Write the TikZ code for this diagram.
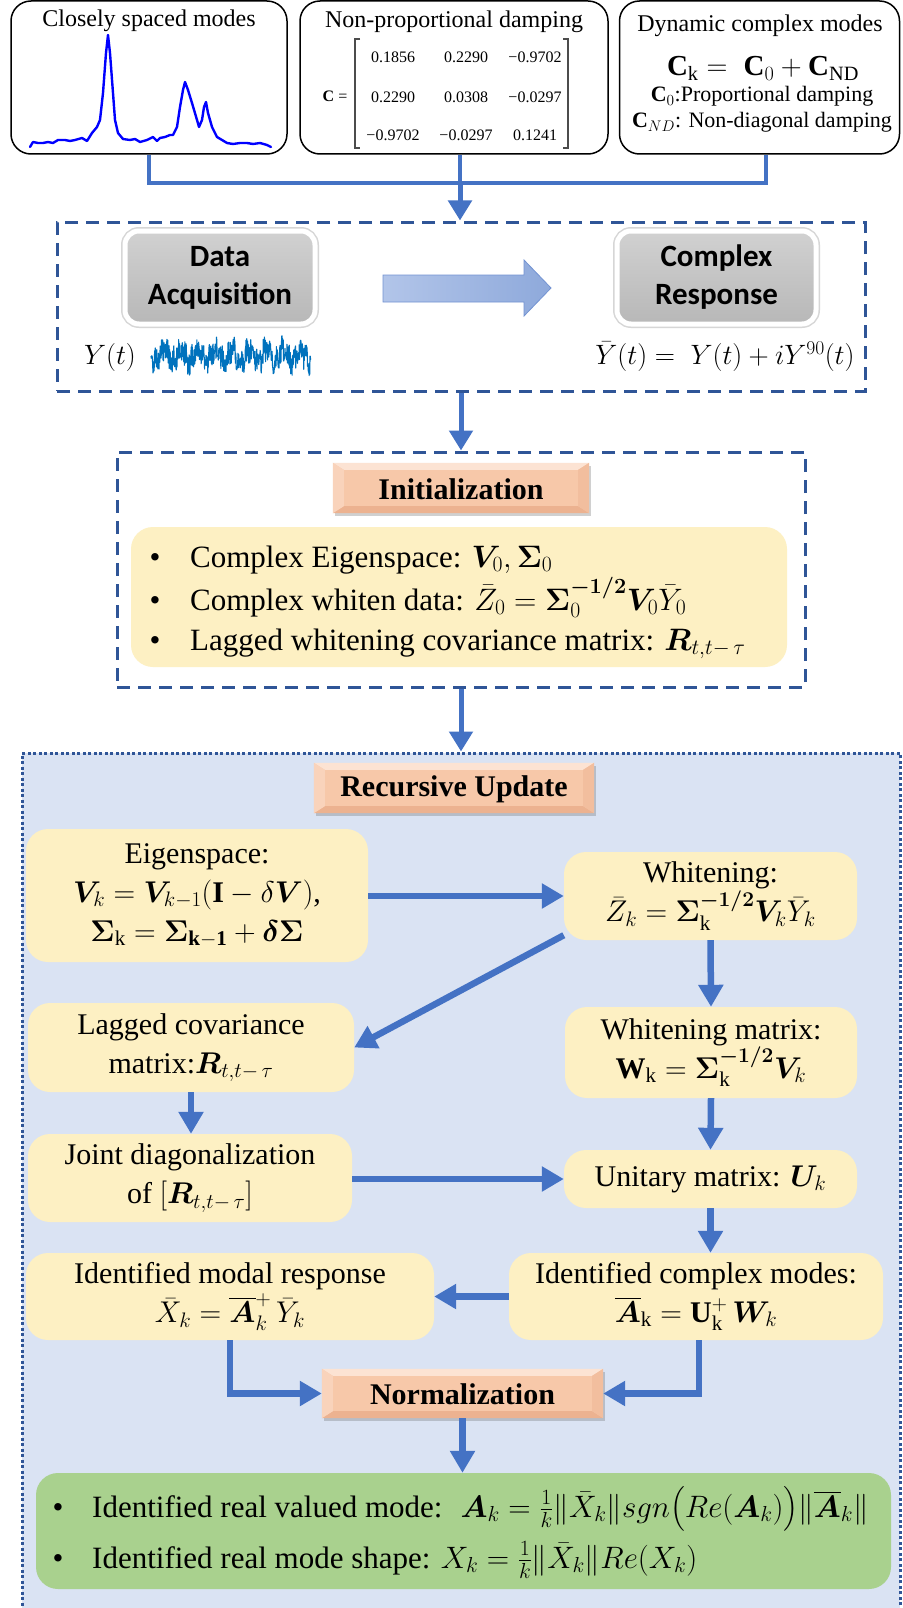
\RequirePackage{fix-cm}
\documentclass[tikz,border=0pt]{standalone}
\usepackage{amsmath}
\usepackage{bm}
\usepackage{fontspec}
\setmainfont{Liberation Serif}
\newfontfamily\calib{Carlito}
\usetikzlibrary{arrows.meta,shadows,calc}
\definecolor{conn}{HTML}{4472C4}
\definecolor{dashc}{HTML}{2F5597}
\definecolor{ylw}{HTML}{FDF0C3}
\definecolor{grn}{HTML}{A9D18E}
\definecolor{bgblue}{HTML}{DAE3F3}
\definecolor{salm}{HTML}{F7C8A9}
\definecolor{salmtop}{HTML}{FCE3D3}
\definecolor{salmleft}{HTML}{F9D3BB}
\definecolor{salmright}{HTML}{F2BE9E}
\definecolor{salmbot}{HTML}{ECB290}
\definecolor{arrfill}{HTML}{8EA9DB}
\definecolor{arrfillL}{HTML}{B2C5E9}
\definecolor{arrdraw}{HTML}{7393D2}
\definecolor{noisec}{HTML}{0072BD}
\newcommand\bevel[1]{%
  \fill[salmtop] (#1.north west) -- (#1.north east) -- ($(#1.north east)+(-11,7)$) -- ($(#1.north west)+(11,7)$) -- cycle;
  \fill[salmbot] (#1.south west) -- (#1.south east) -- ($(#1.south east)+(-11,-7)$) -- ($(#1.south west)+(11,-7)$) -- cycle;
  \fill[salmleft] (#1.north west) -- ($(#1.north west)+(11,7)$) -- ($(#1.south west)+(11,-7)$) -- (#1.south west) -- cycle;
  \fill[salmright] (#1.north east) -- ($(#1.north east)+(-11,7)$) -- ($(#1.south east)+(-11,-7)$) -- (#1.south east) -- cycle;
}
\tikzset{
  topbox/.style={draw=black, line width=1.5pt, rounded corners=20pt, fill=white, minimum height=153pt, inner sep=0pt},
  dashbox/.style={draw=dashc, line width=3pt, dash pattern=on 13pt off 8pt, inner sep=0pt},
  dotbox/.style={draw=dashc, fill=bgblue, line width=3pt, dash pattern=on 3pt off 2.5pt, inner sep=0pt},
  ybox/.style={fill=ylw, rounded corners=22pt, align=center, inner sep=0pt, font=\fontsize{30}{39}\selectfont},
  gbox/.style={fill=grn, rounded corners=22pt, inner sep=0pt},
  bevbtn/.style={fill=salm, inner sep=0pt, font=\bfseries\fontsize{30}{36}\selectfont,
     drop shadow={shadow xshift=1.5pt, shadow yshift=-3pt, opacity=0.3, fill=black!60}},
  graybtn/.style={rounded corners=14pt, top color=black!18, bottom color=black!28, draw=white, line width=5pt,
     preaction={draw=black!16, line width=8pt}, align=center, inner sep=0pt,
     font=\calib\bfseries\fontsize{31}{38}\selectfont},
  thinconn/.style={draw=conn, line width=4.5pt},
  arrthin/.style={draw=conn, line width=5pt, -{Triangle[width=23pt,length=20pt]}},
  arrthick/.style={draw=conn, line width=6.5pt, -{Triangle[width=24pt,length=22pt]}},
  txt/.style={inner sep=0pt},
}
\begin{document}
\begin{tikzpicture}[x=1pt,y=-1pt]
\clip (0,0) rectangle (902,1608);
\fill[white] (0,0) rectangle (902,1608);

% ---------- top boxes ----------
\node[topbox, minimum width=276pt] (box1) at (149,77.5) {};
\node[topbox, minimum width=308pt] (box2) at (454,77.5) {};
\node[topbox, minimum width=280pt] (box3) at (759.5,77.5) {};

\node[txt, anchor=base, font=\fontsize{24}{28}\selectfont] (t1) at (149,27) {Closely spaced modes};
\node[txt, anchor=base, font=\fontsize{24}{28}\selectfont] (t2) at (454,28) {Non-proportional damping};
\node[txt, anchor=base, font=\fontsize{24}{28}\selectfont] (t3) at (760,32) {Dynamic complex modes};
\node[txt, anchor=base, font=\fontsize{29}{32}\selectfont] (ck) at (763,76) {$\mathbf{C}_{\mathrm{k}} = \;\mathbf{C}_0 + \mathbf{C}_{\mathrm{ND}}$};
\node[txt, anchor=base, font=\fontsize{22}{26}\selectfont] (c0) at (762,102) {$\mathbf{C}_0$:Proportional damping};
\node[txt, anchor=base, font=\fontsize{22}{26}\selectfont] (cnd) at (762,128) {$\mathbf{C}_{ND}$: Non-diagonal damping};

% spectrum
\draw[blue, line width=2.4pt, line join=round, line cap=round]
 (30,147) -- (33,142) -- (38,143) -- (43,143) -- (48,142) -- (53,143) -- (58,140) -- (65,140) -- (70,141) -- (75,140)
 -- (82,138) -- (87,141) -- (92,133) -- (97,127) -- (100,120) -- (103,93) -- (106,53) -- (108,35) -- (110,53) -- (113,93)
 -- (115,120) -- (118,133) -- (123,139) -- (130,140) -- (135,139) -- (140,142) -- (147,140) -- (153,137) -- (157,141)
 -- (160,138) -- (165,137) -- (170,135) -- (173,135) -- (177,127) -- (180,107) -- (183,90) -- (185,82) -- (188,90)
 -- (192,103) -- (197,120) -- (199,127) -- (202,120) -- (204,107) -- (206,102) -- (208,113) -- (212,127) -- (217,137)
 -- (222,140) -- (227,143) -- (233,144) -- (240,143) -- (247,143) -- (253,144) -- (260,143) -- (267,145) -- (271,147);

% matrix
\node[txt, font=\fontsize{16}{19}\selectfont] (cm) at (335,96) {\textbf{C} =};
\draw[black!70, line width=1.2pt] (360,39) -- (355,39) -- (355,148) -- (360,148);
\draw[black!70, line width=1.2pt] (563,39) -- (568,39) -- (568,148) -- (563,148);
\begin{scope}[every node/.style={txt, font=\fontsize{16}{19}\selectfont}]
\node (m11) at (393,57) {0.1856};
\node (m12) at (466,57) {0.2290};
\node (m13) at (535,57) {−0.9702};
\node (m21) at (393,97) {0.2290};
\node (m22) at (466,97) {0.0308};
\node (m23) at (535,97) {−0.0297};
\node (m31) at (393,135) {−0.9702};
\node (m32) at (466,135) {−0.0297};
\node (m33) at (535,135) {0.1241};
\end{scope}

% ---------- first dashed box ----------
\node[dashbox, minimum width=808pt, minimum height=169pt] (dash1) at (461,306.5) {};
\coordinate (j) at (460,183);
\coordinate (j3) at (766,183);
\draw[thinconn] (box1.south) |- (j3) -- (j3 |- box3.south);
\draw[thinconn] (j |- box2.south) -- (j);
\draw[arrthin] (j) -- (j |- dash1.north);

\node[graybtn, minimum width=190pt, minimum height=93pt] (daq) at (220,277.5) {Data\\Acquisition};
\node[graybtn, minimum width=199pt, minimum height=93pt] (cresp) at (716.5,277.5) {Complex\\Response};
\path[left color=arrfillL, right color=arrfill, draw=arrdraw, line width=0.8pt]
  (383,275) -- (524,275) -- (524,260) -- (551,288) -- (524,316) -- (524,302) -- (383,302) -- cycle;

\node[txt, font=\fontsize{28}{32}\selectfont] (yt) at (110,357) {$Y(t)$};
\pgfmathsetseed{11}
\draw[noisec, line width=1.1pt, line join=round] (151,356)
  \foreach \i in {1,...,560} { -- ({151+\i*0.285}, {356 + 6*sin(\i*6) + 4*sin(\i*17) + 12*rand}) };
\node[txt, font=\fontsize{28}{32}\selectfont] (ybar) at (725,357) {$\bar{Y}(t) = \; Y(t) + iY^{90}(t)$};

% ---------- second dashed box ----------
\node[dashbox, minimum width=688pt, minimum height=235pt] (dash2) at (461,569.5) {};
\draw[arrthin] (dash1.south) -- (dash2.north);
\node[bevbtn, minimum width=256pt, minimum height=50pt] (init) at (461,488) {};
\bevel{init}
\node[txt, font=\bfseries\fontsize{30}{36}\selectfont] (initt) at (461,489) {Initialization};
\node[ybox, minimum width=656pt, minimum height=140pt] (initbox) at (459,597) {};
\begin{scope}[every node/.style={txt, font=\fontsize{31}{38}\selectfont}]
\node[anchor=base] (d1) at (155,567) {•};
\node[anchor=base] (d2) at (155,610) {•};
\node[anchor=base] (d3) at (155,650) {•};
\node[anchor=base west] (l1) at (190,567) {Complex Eigenspace: $\bm{V}_0,\bm{\Sigma}_0$};
\node[anchor=base west] (l2) at (190,610) {Complex whiten data: $\bar{Z}_0 = \bm{\Sigma}_0^{\bm{-1/2}}\bm{V}_0\bar{Y}_0$};
\node[anchor=base west] (l3) at (190,650) {Lagged whitening covariance matrix: $\bm{R}_{t,t-\,\tau}$};
\end{scope}

% ---------- recursive update ----------
\node[dotbox, minimum width=878pt, minimum height=887pt] (rec) at (461,1196.5) {};
\draw[arrthin] (dash2.south) -- (dash2.south |- rec.north);
\node[bevbtn, minimum width=280pt, minimum height=50pt] (recbtn) at (454,788) {};
\bevel{recbtn}
\node[txt, font=\bfseries\fontsize{30}{36}\selectfont] (rect) at (454,789) {Recursive Update};

\node[ybox, minimum width=342pt, minimum height=133pt] (eig) at (197,895.5)
  {Eigenspace:\\ $\bm{V}_k = \bm{V}_{k-1}(\mathbf{I}-\delta \bm{V})$,\\ $\bm{\Sigma}_{\mathrm{k}} = \bm{\Sigma}_{\mathbf{k-1}} + \bm{\delta\Sigma}$};
\node[ybox, minimum width=293pt, minimum height=88pt] (whit) at (710.5,896)
  {Whitening:\\ $\bar{Z}_k = \bm{\Sigma}_{\mathrm{k}}^{\bm{-1/2}}\bm{V}_k\bar{Y}_k$};
\node[ybox, minimum width=326pt, minimum height=89pt] (lag) at (191,1047.5)
  {Lagged covariance\\ matrix:$\bm{R}_{t,t-\,\tau}$};
\node[ybox, minimum width=292pt, minimum height=91pt] (wmat) at (711,1052.5)
  {Whitening matrix:\\ $\mathbf{W}_{\mathrm{k}} = \bm{\Sigma}_{\mathrm{k}}^{\bm{-1/2}}\bm{V}_k$};
\node[ybox, minimum width=324pt, minimum height=88pt] (joint) at (190,1178)
  {Joint diagonalization\\ of $[\bm{R}_{t,t-\,\tau}]$};
\node[ybox, minimum width=293pt, minimum height=58pt] (unit) at (710.5,1179)
  {Unitary matrix: $\bm{U}_k$};
\node[ybox, minimum width=408pt, minimum height=87pt] (modal) at (230,1296.5)
  {Identified modal response\\ $\bar{X}_k = \overline{\bm{A}}_k^{+}\,\bar{Y}_k$};
\node[ybox, minimum width=374pt, minimum height=87pt] (cmodes) at (696,1296.5)
  {Identified complex modes:\\ $\overline{\bm{A}}_{\mathrm{k}} = \mathbf{U}_{\mathrm{k}}^{+}\,\bm{W}_k$};
\node[bevbtn, minimum width=281pt, minimum height=49pt] (norm) at (462.5,1393.5) {};
\bevel{norm}
\node[txt, font=\bfseries\fontsize{30}{36}\selectfont] (normt) at (462.5,1394.5) {Normalization};

\node[gbox, minimum width=855pt, minimum height=116pt] (green) at (463.5,1531) {};
\begin{scope}[every node/.style={txt, font=\fontsize{31}{38}\selectfont}]
\node[anchor=base] (gd1) at (58,1517) {•};
\node[anchor=base] (gd2) at (58,1568) {•};
\node[anchor=base west] (g1) at (92,1517) {Identified real valued mode: \ $\bm{A}_k = \frac{1}{k}\|\bar{X}_k\| sgn\bigl(Re(\bm{A}_k)\bigr)\|\overline{\bm{A}}_k\|$};
\node[anchor=base west] (g2) at (92,1568) {Identified real mode shape: $X_k = \frac{1}{k}\|\bar{X}_k\| Re(X_k)$};
\end{scope}

% connectors inside
\draw[arrthick] (eig.east |- whit.west) -- (whit.west);
\draw[arrthick] ([yshift=5pt]whit.south west) -- (lag.east);
\draw[arrthick] (whit.south) -- (wmat.north);
\draw[arrthick] (lag.south) -- (lag.south |- joint.north);
\draw[arrthick] (wmat.south) -- (unit.north);
\draw[arrthick] (joint.east |- unit.west) -- (unit.west);
\draw[arrthick] (unit.south) -- (unit.south |- cmodes.north);
\draw[arrthick] (cmodes.west) -- (modal.east);
\draw[arrthick] (modal.south) |- (norm.west);
\draw[arrthick] ([xshift=3pt]cmodes.south) |- (norm.east);
\draw[arrthick] (norm.south) -- (norm.south |- green.north);
\end{tikzpicture}
\end{document}
